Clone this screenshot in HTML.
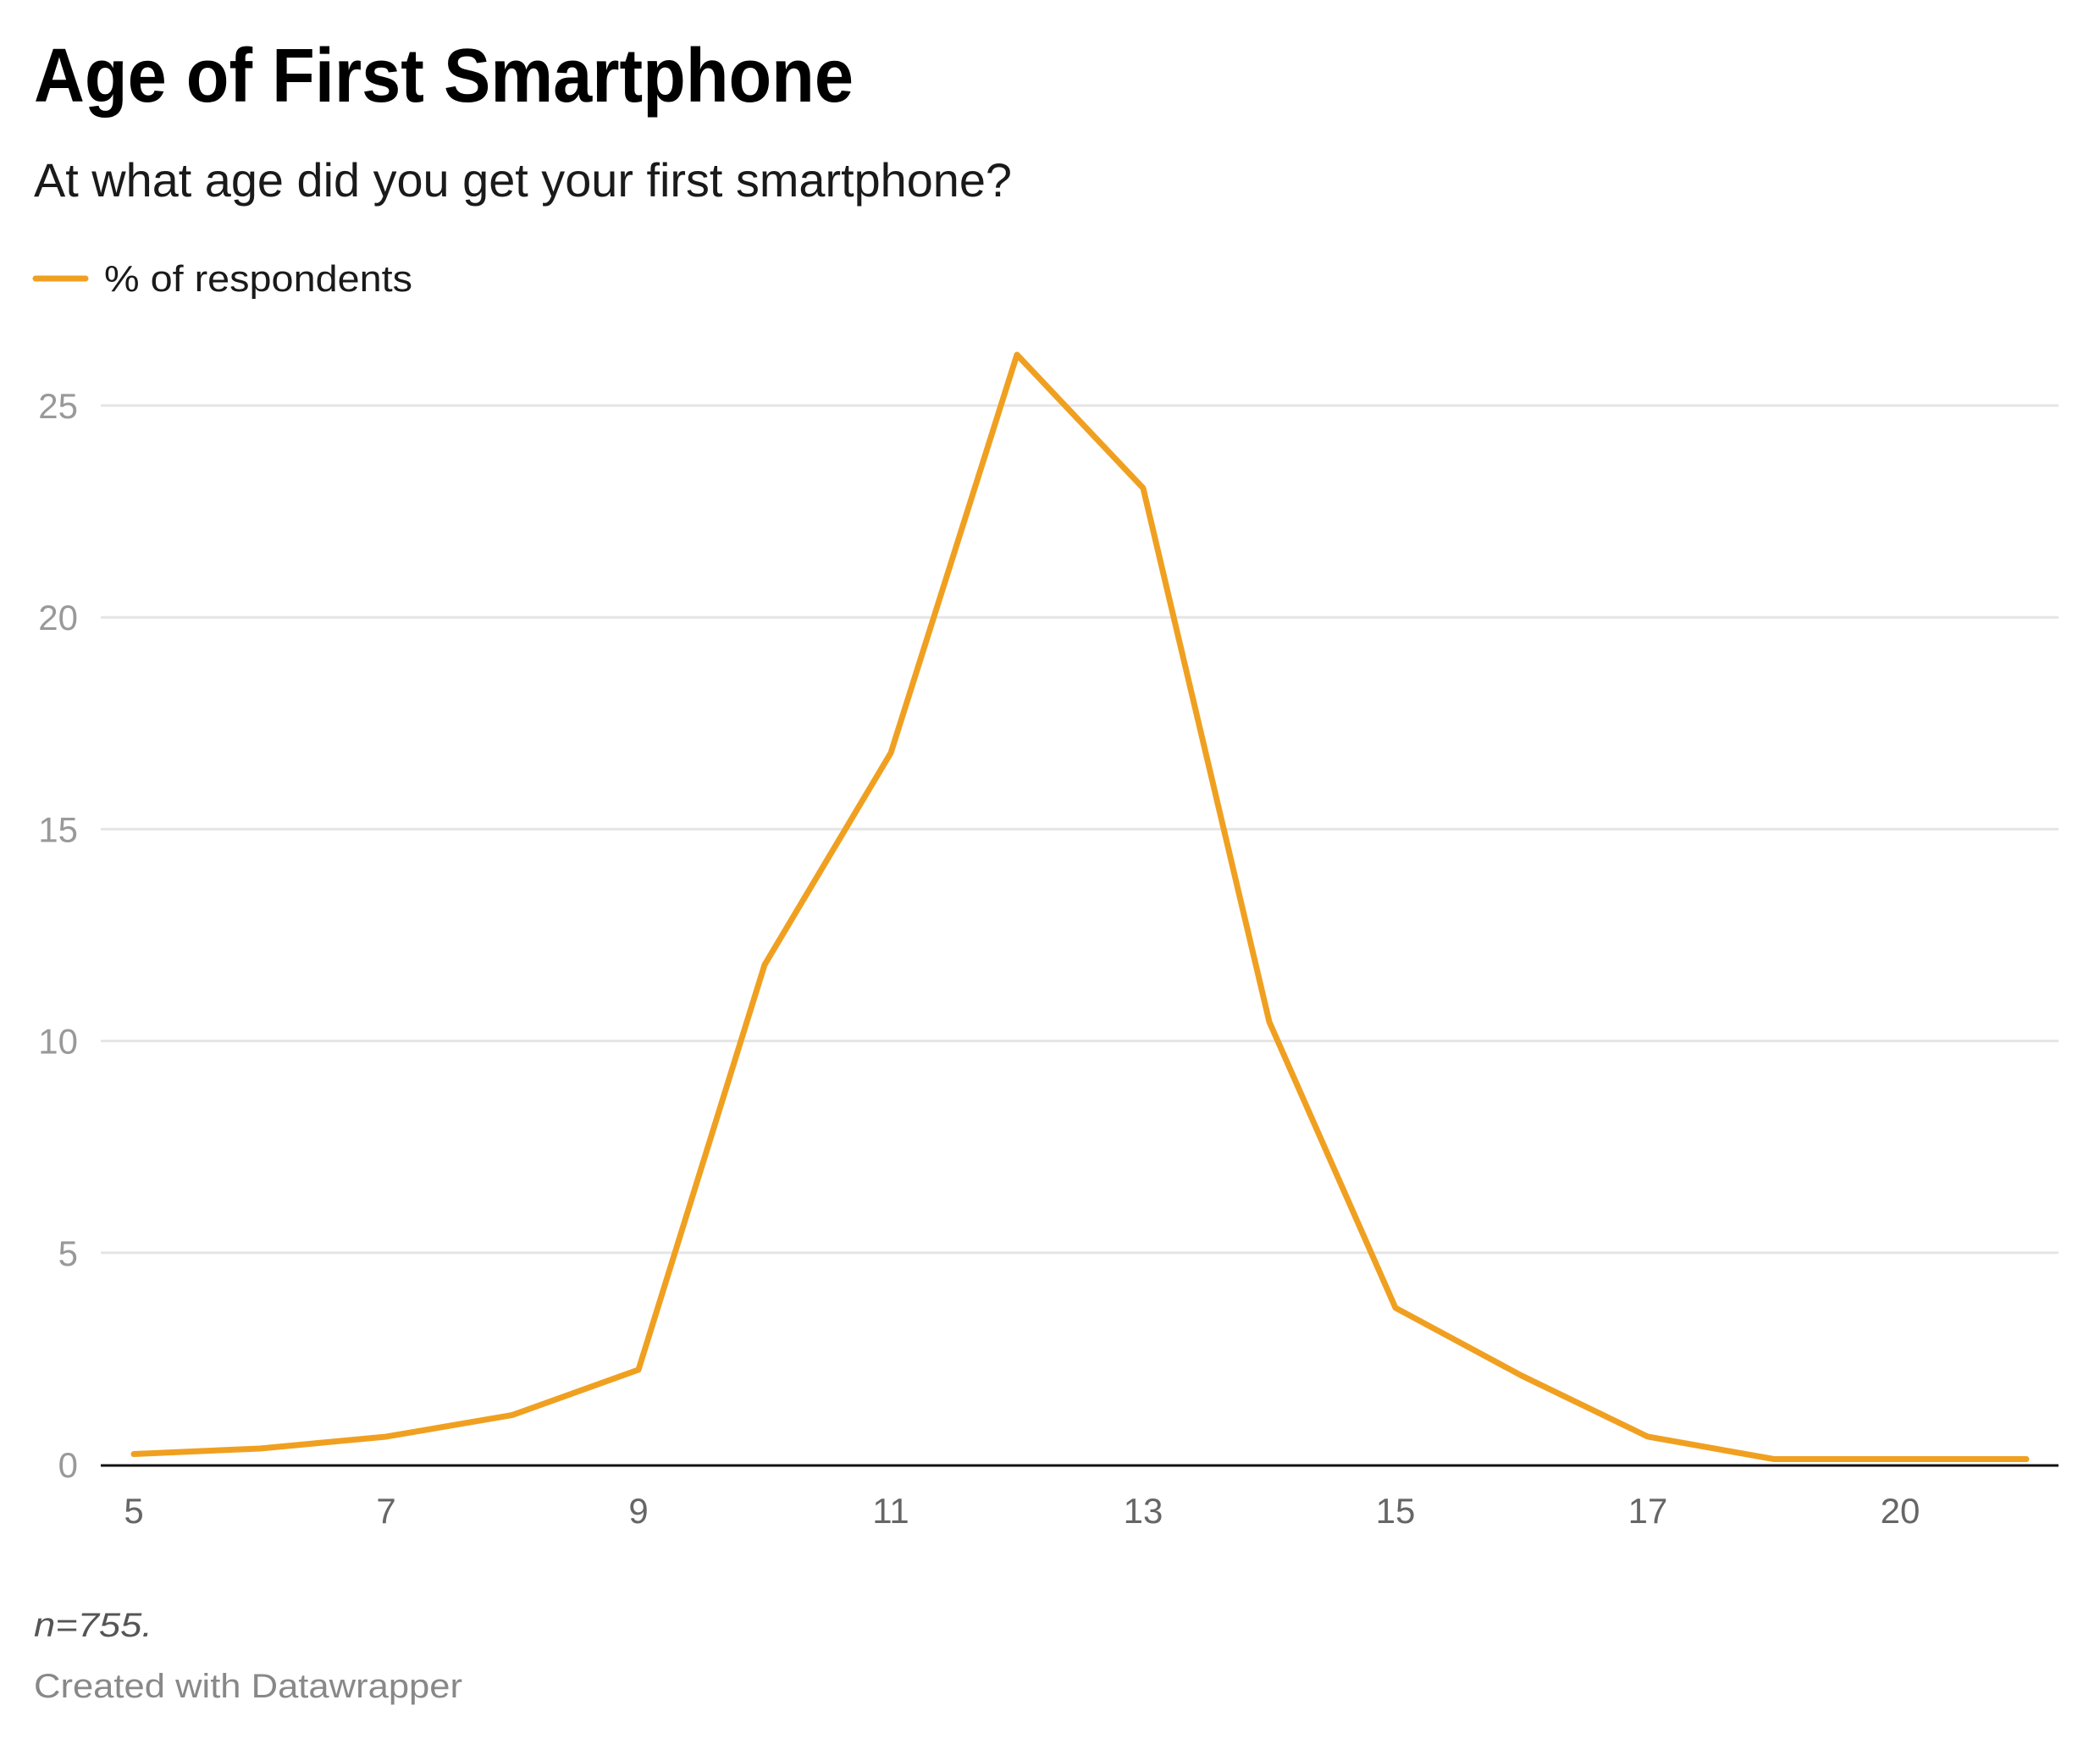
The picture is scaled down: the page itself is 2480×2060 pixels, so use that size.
<!DOCTYPE html>
<html><head><meta charset="utf-8">
<style>
html,body{margin:0;padding:0;background:#fff;}
svg{display:block;font-family:"Liberation Sans",Arial,sans-serif;}
</style></head>
<body>
<svg id="chart" width="2480" height="2060" viewBox="0 0 2480 2060" xmlns="http://www.w3.org/2000/svg">
<text x="40" y="120" font-size="90" font-weight="bold" fill="#000" textLength="968" lengthAdjust="spacingAndGlyphs">Age of First Smartphone</text>
<text x="40" y="232" font-size="56" fill="#1a1a1a" textLength="1155" lengthAdjust="spacingAndGlyphs">At what age did you get your first smartphone?</text>
<g>
<line x1="42" y1="329" x2="101" y2="329" stroke="#f0a020" stroke-width="7" stroke-linecap="round"/>
<text x="123" y="344" font-size="44" fill="#1a1a1a" textLength="364" lengthAdjust="spacingAndGlyphs">% of respondents</text>
</g>
<g id="grid"></g>
<g id="yticks"></g>
<g id="xticks"></g>
<line x1="119" y1="1731" x2="2431" y2="1731" stroke="#111" stroke-width="3"/>
<polyline id="series" fill="none" stroke="#f0a020" stroke-width="7" stroke-linejoin="round" stroke-linecap="round"/>
<text x="40" y="1933" font-size="40" font-style="italic" fill="#555" textLength="140" lengthAdjust="spacingAndGlyphs">n=755.</text>
<text x="40" y="2005" font-size="40" fill="#888" textLength="506" lengthAdjust="spacingAndGlyphs">Created with Datawrapper</text>
</svg>
<script>
const categories = ["5","6","7","8","9","10","11","12","13","14","15","16","17","18","20","21"];
const values = [0.25,0.38,0.66,1.17,2.24,11.8,16.8,26.2,23.05,10.45,3.7,2.1,0.66,0.13,0.13,0.13];
const yTicks = [0,5,10,15,20,25];
const xTickLabels = ["5","7","9","11","13","15","17","20"];

const NS = "http://www.w3.org/2000/svg";
const x0 = 158, step = 149.0, yBase = 1730, perUnit = 50.04;
function xScale(i){ return x0 + i*step; }
function yScale(v){ return yBase - v*perUnit; }

const grid = document.getElementById('grid');
const yt = document.getElementById('yticks');
yTicks.forEach(t=>{
  const y = yScale(t);
  if (t !== 0) {
    const l = document.createElementNS(NS,'line');
    
    
    l.setAttribute('x1',119); l.setAttribute('x2',2431);
    l.setAttribute('y1',y); l.setAttribute('y2',y);
    l.setAttribute('stroke','#e5e5e5'); l.setAttribute('stroke-width','3');
    grid.appendChild(l);
  }
  const tx = document.createElementNS(NS,'text');
  
  
  tx.setAttribute('x',92); tx.setAttribute('y',y+15);
  tx.setAttribute('text-anchor','end');
  tx.setAttribute('font-size','42'); tx.setAttribute('fill','#999');
  tx.textContent = t;
  yt.appendChild(tx);
});

const xt = document.getElementById('xticks');
xTickLabels.forEach(lab=>{
  const i = categories.indexOf(lab);
  const tx = document.createElementNS(NS,'text');
  
  
  tx.setAttribute('x',xScale(i)); tx.setAttribute('y',1799);
  tx.setAttribute('text-anchor','middle');
  tx.setAttribute('font-size','42'); tx.setAttribute('fill','#666');
  tx.textContent = lab;
  xt.appendChild(tx);
});

document.getElementById('series').setAttribute('points',
  values.map((v,i)=>xScale(i)+','+yScale(v)).join(' '));
</script>
</body></html>
